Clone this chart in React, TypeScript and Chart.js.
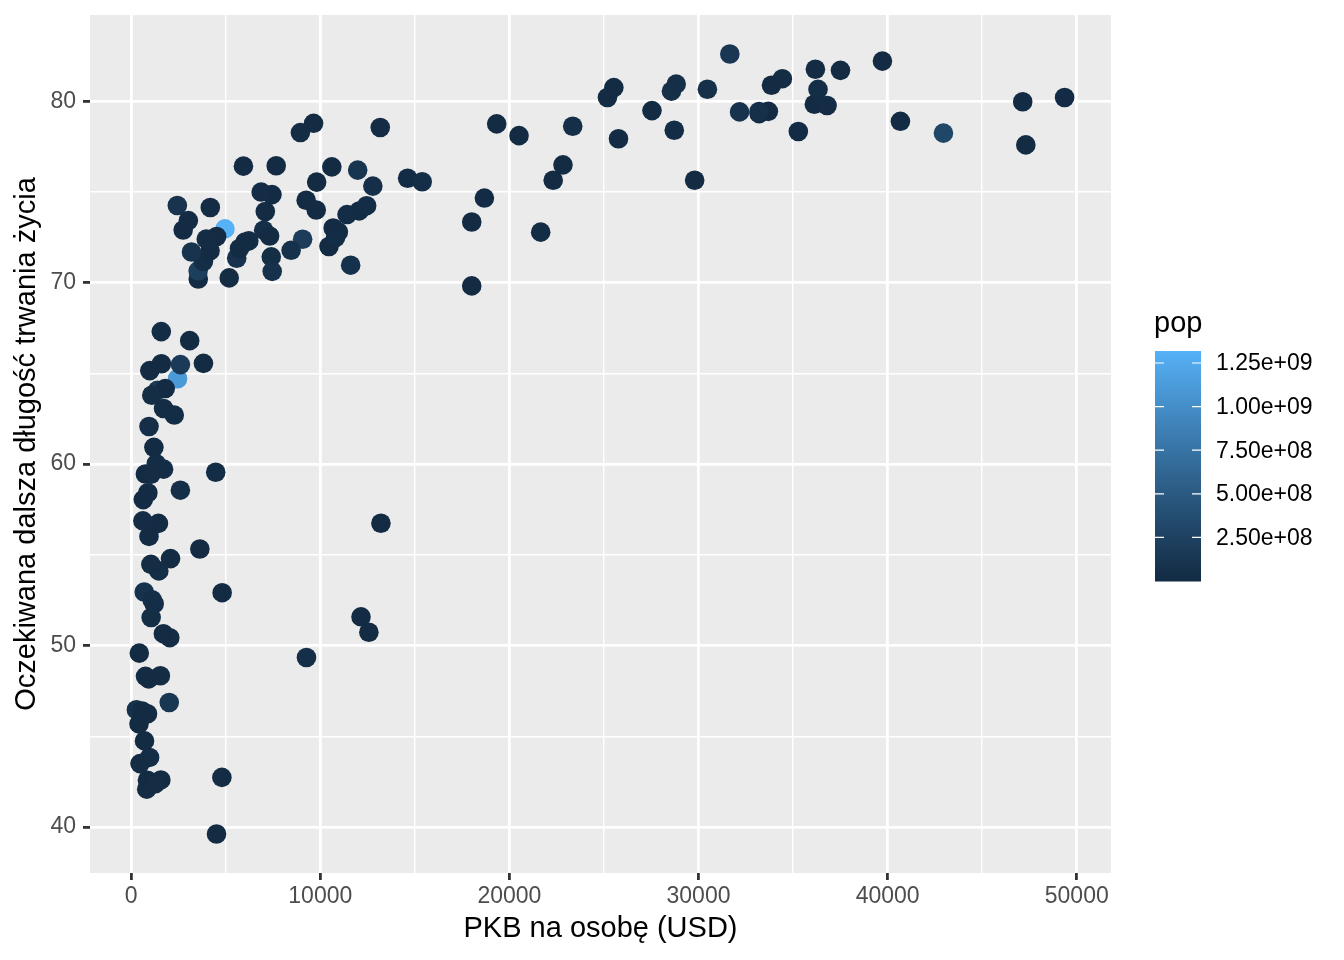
import React, { useEffect, useRef } from "react";
import { Chart, ChartConfiguration, Plugin, registerables } from "chart.js";

Chart.register(...registerables);

// gapminder, 2007
const countries = [
    "Afghanistan", "Albania", "Algeria", "Angola", "Argentina", "Australia", "Austria", "Bahrain", "Bangladesh", "Belgium",
    "Benin", "Bolivia", "Bosnia and Herzegovina", "Botswana", "Brazil", "Bulgaria", "Burkina Faso", "Burundi", "Cambodia", "Cameroon",
    "Canada", "Central African Republic", "Chad", "Chile", "China", "Colombia", "Comoros", "Congo, Dem. Rep.", "Congo, Rep.", "Costa Rica",
    "Cote d'Ivoire", "Croatia", "Cuba", "Czech Republic", "Denmark", "Djibouti", "Dominican Republic", "Ecuador", "Egypt", "El Salvador",
    "Equatorial Guinea", "Eritrea", "Ethiopia", "Finland", "France", "Gabon", "Gambia", "Germany", "Ghana", "Greece",
    "Guatemala", "Guinea", "Guinea-Bissau", "Haiti", "Honduras", "Hong Kong, China", "Hungary", "Iceland", "India", "Indonesia",
    "Iran", "Iraq", "Ireland", "Israel", "Italy", "Jamaica", "Japan", "Jordan", "Kenya", "Korea, Dem. Rep.",
    "Korea, Rep.", "Kuwait", "Lebanon", "Lesotho", "Liberia", "Libya", "Madagascar", "Malawi", "Malaysia", "Mali",
    "Mauritania", "Mauritius", "Mexico", "Mongolia", "Montenegro", "Morocco", "Mozambique", "Myanmar", "Namibia", "Nepal",
    "Netherlands", "New Zealand", "Nicaragua", "Niger", "Nigeria", "Norway", "Oman", "Pakistan", "Panama", "Paraguay",
    "Peru", "Philippines", "Poland", "Portugal", "Puerto Rico", "Reunion", "Romania", "Rwanda", "Sao Tome and Principe", "Saudi Arabia",
    "Senegal", "Serbia", "Sierra Leone", "Singapore", "Slovak Republic", "Slovenia", "Somalia", "South Africa", "Spain", "Sri Lanka",
    "Sudan", "Swaziland", "Sweden", "Switzerland", "Syria", "Taiwan", "Tanzania", "Thailand", "Togo", "Trinidad and Tobago",
    "Tunisia", "Turkey", "Uganda", "United Kingdom", "United States", "Uruguay", "Venezuela", "Vietnam", "West Bank and Gaza", "Yemen, Rep.",
    "Zambia", "Zimbabwe",
];

const gdpPercap = [
    974.58, 5937.03, 6223.37, 4797.23, 12779.38, 34435.37, 36126.49, 29796.05, 1391.25, 33692.61,
    1441.28, 3822.14, 7446.30, 12569.85, 9065.80, 10680.79, 1217.03, 430.07, 1713.78, 2042.10,
    36319.24, 706.02, 1704.06, 13171.64, 4959.11, 7006.58, 986.15, 277.55, 3632.56, 9645.06,
    1544.75, 14619.22, 8948.10, 22833.31, 35278.42, 2082.48, 6025.37, 6873.26, 5581.18, 5728.35,
    12154.09, 641.37, 690.81, 33207.08, 30470.02, 13206.48, 752.75, 32170.37, 1327.61, 27538.41,
    5186.05, 942.65, 579.23, 1201.64, 3548.33, 39724.98, 18008.94, 36180.79, 2452.21, 3540.65,
    11605.71, 4471.06, 40676.00, 25523.28, 28569.72, 7320.88, 31656.07, 4519.46, 1463.25, 1593.07,
    23348.14, 47306.99, 10461.06, 1569.33, 414.51, 12057.50, 1044.77, 759.35, 12451.66, 1042.58,
    1803.15, 10956.99, 11977.57, 3095.77, 9253.90, 3820.18, 823.69, 944.00, 4811.06, 1091.36,
    36797.93, 25185.01, 2749.32, 619.68, 2013.98, 49357.19, 22316.19, 2605.95, 9809.19, 4172.84,
    7408.91, 3190.48, 15389.92, 20509.65, 19328.71, 7670.12, 10808.48, 863.09, 1598.44, 21654.83,
    1712.47, 9786.53, 862.54, 47143.18, 18678.31, 25768.26, 926.14, 9269.66, 28821.06, 3970.10,
    2602.39, 4513.48, 33859.75, 37506.42, 4184.55, 28718.28, 1107.48, 7458.40, 882.97, 18008.51,
    7092.92, 8458.28, 1056.38, 33203.26, 42951.65, 10611.46, 11415.81, 2441.58, 3025.35, 2280.77,
    1271.21, 469.71,
];

const lifeExp = [
    43.83, 76.42, 72.30, 42.73, 75.32, 81.24, 79.83, 75.64, 64.06, 79.44,
    56.73, 65.55, 74.85, 50.73, 72.39, 73.01, 52.30, 49.58, 59.72, 50.43,
    80.65, 44.74, 50.65, 78.55, 72.96, 72.89, 65.15, 46.46, 55.32, 78.78,
    48.33, 75.75, 78.27, 76.49, 78.33, 54.79, 72.24, 74.99, 71.34, 71.88,
    51.58, 58.04, 52.95, 79.31, 80.66, 56.74, 59.45, 79.41, 60.02, 79.48,
    70.26, 56.01, 46.39, 60.92, 70.20, 82.21, 73.34, 81.76, 64.70, 70.65,
    70.96, 59.55, 78.89, 80.75, 80.55, 72.57, 82.60, 72.54, 54.11, 67.30,
    78.62, 77.59, 71.99, 42.59, 45.68, 73.95, 59.44, 48.30, 74.24, 54.47,
    64.16, 72.80, 76.20, 66.80, 74.54, 71.16, 42.08, 62.07, 52.91, 63.79,
    79.76, 80.20, 72.90, 56.87, 46.86, 80.20, 75.64, 65.48, 75.54, 71.75,
    71.42, 71.69, 75.56, 78.10, 78.75, 76.44, 72.48, 46.24, 65.53, 72.78,
    63.06, 74.00, 42.57, 79.97, 74.66, 77.93, 48.16, 49.34, 80.94, 72.40,
    58.56, 39.61, 80.88, 81.70, 74.14, 78.40, 52.52, 70.62, 58.42, 69.82,
    73.92, 71.78, 51.54, 79.43, 78.24, 76.38, 73.75, 74.25, 73.42, 62.70,
    42.38, 43.49,
];

const pop = [
    31889923, 3600523, 33333216, 12420476, 40301927, 20434176, 8199783, 708573, 150448339, 10392226,
    8078314, 9119152, 4552198, 1639131, 190010647, 7322858, 14326203, 8390505, 14131858, 17696293,
    33390141, 4369038, 10238807, 16284741, 1318683096, 44227550, 710960, 64606759, 3800610, 4133884,
    18013409, 4493312, 11416987, 10228744, 5468120, 496374, 9319622, 13755680, 80264543, 6939688,
    551201, 4906585, 76511887, 5238460, 61083916, 1454867, 1688359, 82400996, 22873338, 10706290,
    12572928, 9947814, 1472041, 8502814, 7483763, 6980412, 9956108, 301931, 1110396331, 223547000,
    69453570, 27499638, 4109086, 6426679, 58147733, 2780132, 127467972, 6053193, 35610177, 23301725,
    49044790, 2505559, 3921278, 2012649, 3193942, 6036914, 19167654, 13327079, 24821286, 12031795,
    3270065, 1250882, 108700891, 2874127, 684736, 33757175, 19951656, 47761980, 2055080, 28901790,
    16570613, 4115771, 5675356, 12894865, 135031164, 4627926, 3204897, 169270617, 3242173, 6667147,
    28674757, 91077287, 38518241, 10642836, 3942491, 798094, 22276056, 8860588, 199579, 27601038,
    12267493, 10150265, 6144562, 4553009, 5447502, 2009245, 9118773, 43997828, 40448191, 20378239,
    42292929, 1133066, 9031088, 7554661, 19314747, 23174294, 38139640, 65068149, 5701579, 1056608,
    10276158, 71158647, 29170398, 60776238, 301139947, 3447496, 26084662, 85262356, 4018332, 22211743,
    11746035, 12311143,
];

const xTicks = [0, 5000, 10000, 15000, 20000, 25000, 30000, 35000, 40000, 45000, 50000];
const yTicks = [40, 45, 50, 55, 60, 65, 70, 75, 80];
const legendBreaks = [250000000, 500000000, 750000000, 1000000000, 1250000000];
const legendLabels = ["2.50e+08", "5.00e+08", "7.50e+08", "1.00e+09", "1.25e+09"];

const FONT = "'Liberation Sans', Arial, Helvetica, sans-serif";
const LOW = "#132B43";
const HIGH = "#56B1F7";

// ggplot's default 5% expansion on both axes
const expand = (vals: number[]) => {
    const lo = Math.min(...vals);
    const hi = Math.max(...vals);
    const pad = (hi - lo) * 0.05;
    return [lo - pad, hi + pad];
};
const [xMin, xMax] = expand(gdpPercap);
const [yMin, yMax] = expand(lifeExp);

// --- Lab interpolation, like scales::seq_gradient_pal
const toLin = (c: number) => {
    c /= 255;
    return c <= 0.04045 ? c / 12.92 : Math.pow((c + 0.055) / 1.055, 2.4);
};
const fromLin = (c: number) => {
    const v = c <= 0.0031308 ? 12.92 * c : 1.055 * Math.pow(c, 1 / 2.4) - 0.055;
    return Math.max(0, Math.min(255, Math.round(v * 255)));
};
const Xn = 0.95047, Yn = 1, Zn = 1.08883;
const fLab = (t: number) => (t > Math.pow(6 / 29, 3) ? Math.cbrt(t) : t / (3 * Math.pow(6 / 29, 2)) + 4 / 29);
const fInv = (t: number) => (t > 6 / 29 ? t * t * t : 3 * Math.pow(6 / 29, 2) * (t - 4 / 29));

function hexToLab(hex: string): number[] {
    const r = toLin(parseInt(hex.slice(1, 3), 16));
    const g = toLin(parseInt(hex.slice(3, 5), 16));
    const b = toLin(parseInt(hex.slice(5, 7), 16));
    const X = 0.4124564 * r + 0.3575761 * g + 0.1804375 * b;
    const Y = 0.2126729 * r + 0.7151522 * g + 0.072175 * b;
    const Z = 0.0193339 * r + 0.119192 * g + 0.9503041 * b;
    const fx = fLab(X / Xn), fy = fLab(Y / Yn), fz = fLab(Z / Zn);
    return [116 * fy - 16, 500 * (fx - fy), 200 * (fy - fz)];
}

function labToRgb(lab: number[]): string {
    const fy = (lab[0] + 16) / 116;
    const fx = fy + lab[1] / 500;
    const fz = fy - lab[2] / 200;
    const X = fInv(fx) * Xn, Y = fInv(fy) * Yn, Z = fInv(fz) * Zn;
    const r = 3.2404542 * X - 1.5371385 * Y - 0.4985314 * Z;
    const g = -0.969266 * X + 1.8760108 * Y + 0.041556 * Z;
    const b = 0.0556434 * X - 0.2040259 * Y + 1.0572252 * Z;
    return `rgb(${fromLin(r)},${fromLin(g)},${fromLin(b)})`;
}

const lowLab = hexToLab(LOW);
const highLab = hexToLab(HIGH);
const popMin = Math.min(...pop);
const popMax = Math.max(...pop);

const popColour = (p: number) => {
    const t = (p - popMin) / (popMax - popMin);
    return labToRgb(lowLab.map((v, i) => v + (highLab[i] - v) * t));
};

// colour bar drawn by hand, ggplot style
const colourBar: Plugin = {
    id: "colourBar",
    beforeDraw(chart) {
        const { ctx, chartArea } = chart;
        ctx.save();
        ctx.fillStyle = "#FFFFFF";
        ctx.fillRect(0, 0, chart.width, chart.height);
        ctx.fillStyle = "#EBEBEB";
        ctx.fillRect(chartArea.left, chartArea.top, chartArea.right - chartArea.left, chartArea.bottom - chartArea.top);
        ctx.restore();
    },
    afterDraw(chart) {
        const ctx = chart.ctx;
        const left = 1155, width = 46, top = 351, bottom = 581;
        const yOf = (p: number) => bottom - ((p - popMin) / (popMax - popMin)) * (bottom - top);
        ctx.save();
        for (let y = top; y < bottom; y++) {
            const p = popMin + ((bottom - y - 0.5) / (bottom - top)) * (popMax - popMin);
            ctx.fillStyle = popColour(p);
            ctx.fillRect(left, y, width, 1.5);
        }
        ctx.strokeStyle = "#FFFFFF";
        ctx.lineWidth = 1.2;
        ctx.font = `23px ${FONT}`;
        ctx.fillStyle = "#000000";
        ctx.textAlign = "left";
        ctx.textBaseline = "middle";
        legendBreaks.forEach((b, i) => {
            const y = yOf(b);
            ctx.beginPath();
            ctx.moveTo(left, y);
            ctx.lineTo(left + 9, y);
            ctx.moveTo(left + width - 9, y);
            ctx.lineTo(left + width, y);
            ctx.stroke();
            ctx.fillText(legendLabels[i], 1216, y + 1);
        });
        ctx.font = `29px ${FONT}`;
        ctx.textBaseline = "alphabetic";
        ctx.fillText("pop", 1154, 332);
        ctx.restore();
    },
};

const App: React.FC = () => {
    const chartRef = useRef<HTMLCanvasElement>(null);
    const chartInstance = useRef<Chart | null>(null);

    useEffect(() => {
        if (!chartRef.current) return;
        const ctx = chartRef.current.getContext("2d");
        if (!ctx) return;
        if (chartInstance.current) chartInstance.current.destroy();

        const points = gdpPercap.map((g, i) => ({ x: g, y: lifeExp[i] }));

        const config: ChartConfiguration = {
            type: "scatter",
            data: {
                labels: countries,
                datasets: [
                    {
                        data: points,
                        pointRadius: 9.8,
                        pointBorderWidth: 0,
                        pointBackgroundColor: pop.map(popColour),
                        pointHoverRadius: 9.8,
                    },
                ],
            },
            options: {
                responsive: false,
                animation: false,
                events: [],
                layout: { padding: { left: 0, top: 15, right: 233, bottom: 0 } },
                scales: {
                    x: {
                        type: "linear",
                        min: xMin,
                        max: xMax,
                        border: { display: false },
                        afterBuildTicks: (scale) => {
                            scale.ticks = xTicks.map((v) => ({ value: v }));
                        },
                        afterFit: (scale) => {
                            scale.height = 87;
                            scale.paddingLeft = 0;
                            scale.paddingRight = 0;
                        },
                        grid: {
                            color: "#FFFFFF",
                            lineWidth: (c) => (c.tick && c.tick.value % 10000 === 0 ? 2.8 : 1.4),
                            tickLength: 7,
                            tickWidth: 2.8,
                            tickColor: (c) => (c.tick && c.tick.value % 10000 === 0 ? "#333333" : "rgba(0,0,0,0)"),
                        },
                        ticks: {
                            autoSkip: false,
                            maxRotation: 0,
                            padding: 3,
                            color: "#4D4D4D",
                            font: { family: FONT, size: 23 },
                            callback: (v) => (Number(v) % 10000 === 0 ? String(v) : ""),
                        },
                        title: {
                            display: true,
                            text: "PKB na osobę (USD)",
                            color: "#000000",
                            font: { family: FONT, size: 29 },
                            padding: { top: 0, bottom: 14 },
                        },
                    },
                    y: {
                        type: "linear",
                        min: yMin,
                        max: yMax,
                        border: { display: false },
                        afterBuildTicks: (scale) => {
                            scale.ticks = yTicks.map((v) => ({ value: v }));
                        },
                        afterFit: (scale) => {
                            scale.width = 90;
                            scale.paddingTop = 0;
                            scale.paddingBottom = 0;
                        },
                        grid: {
                            color: "#FFFFFF",
                            lineWidth: (c) => (c.tick && c.tick.value % 10 === 0 ? 2.8 : 1.4),
                            tickLength: 7,
                            tickWidth: 2.8,
                            tickColor: (c) => (c.tick && c.tick.value % 10 === 0 ? "#333333" : "rgba(0,0,0,0)"),
                        },
                        ticks: {
                            autoSkip: false,
                            padding: 7,
                            color: "#4D4D4D",
                            font: { family: FONT, size: 23 },
                            callback: (v) => (Number(v) % 10 === 0 ? String(v) : ""),
                        },
                        title: {
                            display: true,
                            text: "Oczekiwana dalsza długość trwania życia",
                            color: "#000000",
                            font: { family: FONT, size: 29 },
                            padding: { top: 10, bottom: 0 },
                        },
                    },
                },
                plugins: {
                    legend: { display: false },
                    tooltip: { enabled: false },
                },
            },
            plugins: [colourBar],
        };

        chartInstance.current = new Chart(ctx, config);

        return () => {
            if (chartInstance.current) {
                chartInstance.current.destroy();
                chartInstance.current = null;
            }
        };
    }, []);

    return (
        <div style={{ position: "fixed", left: 0, top: 0, width: 1344, height: 960 }}>
            <canvas ref={chartRef} width={1344} height={960} style={{ width: 1344, height: 960 }} />
        </div>
    );
};

export default App;
